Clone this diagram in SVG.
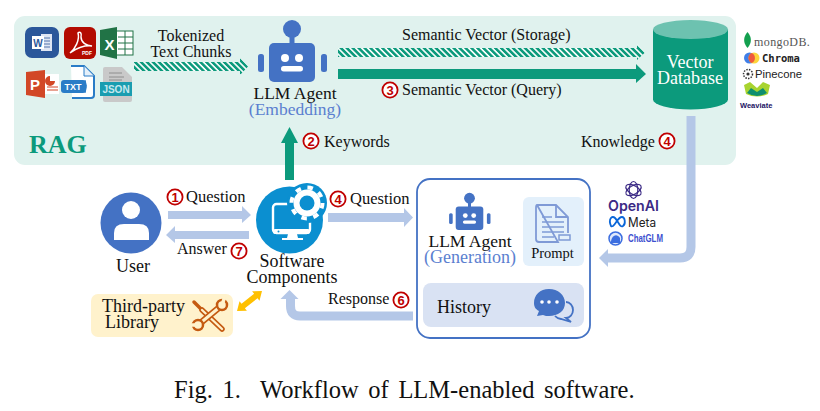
<svg xmlns="http://www.w3.org/2000/svg" xmlns:xlink="http://www.w3.org/1999/xlink" width="820" height="411" viewBox="0 0 820 411">
<style>
text{font-family:"Liberation Serif","Times New Roman",serif;font-size:16px;fill:#111}
.c{text-anchor:middle}
.l{font-size:18px}
.a{font-size:17.500px}
.sub{font-size:17.500px;fill:#5b7fd0}
.q{font-size:16.500px}
.sans{font-family:"Liberation Sans",Arial,sans-serif}
.num{fill:#fff;stroke:#c00000;stroke-width:1.8}
.numt{font-family:"Liberation Sans",Arial,sans-serif;font-weight:bold;font-size:13px;fill:#c00000;text-anchor:middle}
.blue{fill:#b4c7e7}
.bluel{fill:none;stroke:#b4c7e7;stroke-width:9}
.green{fill:#0c9a7c}
.robot{fill:#4472c4}
.w{fill:#fff}
.cap{font-size:24.500px;word-spacing:3.500px}
</style>
<defs>
<pattern id="hatch" width="4.2" height="4.2" patternUnits="userSpaceOnUse" patternTransform="rotate(-45)">
<rect width="4.2" height="4.2" fill="#fff"/><rect width="2.6" height="4.2" fill="#0c9a7c"/>
</pattern>
<g id="robotIcon">
<circle class="robot" cx="0" cy="-23" r="9"/><rect class="robot" x="-2.5" y="-16" width="5" height="12"/>
<rect class="robot" x="-23" y="-9" width="46" height="39" rx="5"/>
<rect class="robot" x="-34" y="2" width="6" height="18" rx="2.5"/><rect class="robot" x="29" y="2" width="6" height="18" rx="2.5"/>
<circle class="w" cx="-7" cy="6" r="4"/><circle class="w" cx="7" cy="6" r="4"/>
<rect class="w" x="-11" y="14" width="22" height="5.500" rx="2.7"/>
</g>
</defs>
<rect width="820" height="411" fill="#fff"/>
<rect id="rag-panel" x="14" y="16" width="722" height="149" rx="11" fill="#e0f2ee"/>
<text x="29" y="153" style="font-size:26px;font-weight:bold;fill:#0c9a7c">RAG</text>

<g id="connectors">
<path d="M134 62H240V58L248 66.500 240 75V71H134Z" fill="url(#hatch)"/>
<path d="M338 48H637V44L645 52.500 637 60V57H338Z" fill="url(#hatch)"/>
<path class="green" d="M338 69H636V64L646 74 636 83V79H338Z"/>
<path class="green" d="M285 180V143H281L289.500 127 298 143H294V180Z"/>
<path class="bluel" d="M691 116V247Q691 258 680 258H606"/>
<polygon class="blue" points="599,258 608,249 608,267"/>
<polygon class="blue" points="168,211 242,211 242,206 251,215 242,223 242,219 168,219"/>
<polygon class="blue" points="249,231 175,231 175,226 166,235 175,243 175,239 249,239"/>
<polygon class="blue" points="328,213 404,213 404,208 413,217.500 404,227 404,222 328,222"/>
<path class="bluel" d="M413 316H300Q290.500 316 290.500 306V296"/>
<polygon class="blue" points="289.500,290 298.500,299 280.500,299"/>
<polygon fill="#ffc000" points="237,311 239.500,301.300 241.500,303.800 254.100,293.800 252.100,291.300 262,291 259.500,300.700 257.500,298.200 244.900,308.200 246.900,310.700"/>
</g>

<g id="documents">
<g id="word"><rect x="25" y="27" width="34" height="31" rx="7" fill="#2b579a"/><rect x="41" y="34" width="11" height="17" fill="#dfe6f3"/><path d="M43 38H50M43 41H50M43 44H50M43 47H50" stroke="#2b579a" stroke-width=".8"/><rect x="32" y="36" width="12" height="13" fill="#fff"/><text x="38" y="46.500" class="c sans" style="font-size:10px;font-weight:bold;fill:#2b579a">W</text></g>
<g id="pdf"><rect x="64" y="27" width="32" height="32" rx="6" fill="#b30b00"/><path d="M70 53C75 49 80 40 78 33 80 31 82 33 81 37 81 42 86 46 92 46 85 45 76 48 70 53Z" fill="none" stroke="#fff" stroke-width="1.500"/><text x="87" y="55" class="c sans" style="font-size:5px;font-weight:bold;fill:#fff">PDF</text></g>
<g id="excel"><rect x="116" y="31" width="17" height="24" fill="#fff" stroke="#217346"/><path d="M118 37H133M118 43H133M118 49H133M125 31V55" stroke="#217346" fill="none"/><polygon points="100,30 117,27 117,59 100,55" fill="#217346"/><text x="109.500" y="50" class="c sans" style="font-size:15px;font-weight:bold;fill:#fff">X</text></g>
<g id="ppt"><rect x="44" y="74" width="15" height="20" fill="#fff"/><path d="M50 76A5 5 0 1 0 55 81H50Z" fill="#d24726"/><path d="M47 87H58M47 90H58" stroke="#d24726"/><polygon points="26,72 45,70 45,98 26,95" fill="#d24726"/><text x="35" y="90" class="c sans" style="font-size:15px;font-weight:bold;fill:#fff">P</text></g>
<g id="txt"><path d="M71 66H84L94 76V95Q94 98 91 98H72" fill="#fff" stroke="#2a7cc7" stroke-width="2"/><path d="M84 66V76H94" fill="#e5f0fa" stroke="#2a7cc7"/><path d="M85 80Q88 86 85 93" stroke="#2a7cc7" fill="none"/><rect x="61" y="80" width="25" height="13" rx="3" fill="#2a7cc7"/><text x="73" y="90" class="c sans" style="font-size:9px;font-weight:bold;fill:#fff">TXT</text></g>
<g id="json"><path d="M103 69Q103 67 105 67H122L132 77V100Q132 102 130 102H105Q103 102 103 100Z" fill="#c9c9c9"/><path d="M109 73H122M109 77H124M109 80H122" stroke="#8e8e8e"/><rect x="100" y="82" width="32" height="14" fill="#1a9db0"/><text x="116" y="93" class="c sans" style="font-size:10px;font-weight:bold;fill:#c5e8ee">JSON</text></g>
</g>

<g id="llm-embedding">
<use xlink:href="#robotIcon" transform="translate(292 52)"/>
<text x="295" y="99" class="c a">LLM Agent</text>
<text x="295" y="115" class="c sub">(Embedding)</text>
</g>
<text x="191" y="41" class="c">Tokenized</text>
<text x="191" y="57" class="c">Text Chunks</text>
<text x="402" y="40">Semantic Vector (Storage)</text>
<circle class="num" cx="390" cy="90" r="7.600"/><text x="390" y="94.500" class="numt">3</text>
<text x="402" y="95">Semantic Vector (Query)</text>
<circle class="num" cx="311" cy="141" r="7.600"/><text x="311" y="145.500" class="numt">2</text>
<text x="324" y="147">Keywords</text>
<text x="581" y="147">Knowledge</text>
<circle class="num" cx="667" cy="141" r="7.600"/><text x="667" y="145.500" class="numt">4</text>

<g id="vector-database">
<path class="green" d="M653 29.500V99.500A37.500 10 0 0 0 728 99.500V29.500Z"/>
<ellipse cx="690.500" cy="29.500" rx="37.500" ry="9.500" fill="#6dc2b0"/>
<text x="690" y="68" class="c" style="font-size:18px;fill:#fff">Vector</text>
<text x="690" y="84" class="c" style="font-size:18px;fill:#fff">Database</text>
</g>

<g id="vector-vendors">
<path d="M747.500 32C752 37 752 43 747.500 48 743 43 743 37 747.500 32Z" fill="#13a04f"/>
<text x="754" y="46" style="font-size:12px;fill:#555;letter-spacing:.4px">mongoDB.</text>
<circle cx="749.500" cy="58" r="5.500" fill="#3f7fe8"/><circle cx="754" cy="58" r="5.500" fill="#fcd53a"/><path d="M751.700 53A5.500 5.500 0 0 1 751.700 63A5.500 5.500 0 0 1 751.700 53Z" fill="#ef5a3c"/>
<text x="762" y="62" style="font-family:'DejaVu Sans Mono',monospace;font-weight:bold;font-size:10.500px;fill:#222">Chroma</text>
<circle cx="748" cy="74" r="4.500" fill="none" stroke="#333" stroke-width="1.500" stroke-dasharray="1.500 1.200"/>
<circle cx="748" cy="74" r="1.600" fill="#333"/>
<text x="755" y="78" class="sans" style="font-size:11.300px;fill:#222">Pinecone</text>
<path d="M744 85L750 82 757 88 763 82 770 85 768 94Q757 99 746 94Z" fill="#a8d430"/><path d="M747 93L751 88 757 92 763 88 767 93Q757 99 747 93Z" fill="#0e8f6e"/>
<text x="740" y="108" class="sans" style="font-size:7.500px;font-weight:bold;fill:#1c1464">Weaviate</text>
</g>

<g id="user">
<circle cx="131" cy="223" r="30.500" fill="#4472c4"/>
<circle class="w" cx="131" cy="210" r="9"/>
<path class="w" d="M114 240V233Q114 224 124 224H139Q149 224 149 233V240Z"/>
<text x="133" y="272" class="c l">User</text>
</g>

<circle class="num" cx="175" cy="197" r="7.600"/><text x="175" y="201.500" class="numt">1</text>
<text x="186" y="202" class="q">Question</text>
<text x="177" y="254">Answer</text>
<circle class="num" cx="239" cy="251" r="7.600"/><text x="239" y="255.500" class="numt">7</text>
<circle class="num" cx="338" cy="199" r="7.600"/><text x="338" y="203.500" class="numt">4</text>
<text x="350" y="204" class="q">Question</text>
<text x="328" y="304">Response</text>
<circle class="num" cx="401" cy="300" r="7.600"/><text x="401" y="304.500" class="numt">6</text>

<g id="software-components">
<circle cx="289.500" cy="220" r="33.500" fill="#0b8fd0"/>
<rect x="273" y="204" width="37" height="29" rx="3.500" fill="none" stroke="#fff" stroke-width="2.400"/>
<rect class="w" x="273" y="229" width="37" height="5" rx="2"/>
<circle cx="278.500" cy="231.500" r="1" fill="#0b8fd0"/>
<path class="w" d="M288 234H297L298 238H303V240H282V238H287Z"/>
<circle cx="307" cy="203" r="20" fill="#0b8fd0"/>
<circle class="w" cx="307" cy="203" r="13.500"/>
<circle cx="307" cy="203" r="15.500" fill="none" stroke="#fff" stroke-width="4" stroke-dasharray="5.500 6.670"/>
<circle cx="307" cy="203" r="7.500" fill="#0b8fd0"/>
<text x="292" y="267" class="c l">Software</text>
<text x="292" y="283" class="c l">Components</text>
</g>

<g id="third-party-library">
<rect x="91" y="294" width="142" height="43" rx="7" fill="#fff2cc"/>
<text x="102" y="312" class="l">Third-party</text>
<text x="105" y="328" class="l">Library</text>
<g fill="none" stroke-linecap="round">
<path d="M194 302L201 309" stroke="#c55a11" stroke-width="3.500"/>
<path d="M202 310L222 329" stroke="#c55a11" stroke-width="5.500"/>
<path d="M202 310L222 329" stroke="#fff2cc" stroke-width="2.300"/>
<path d="M198 325L221 306" stroke="#c55a11" stroke-width="6.500"/>
<path d="M198 325L221 306" stroke="#fff2cc" stroke-width="3"/>
<circle cx="222" cy="305" r="5" fill="#fff2cc" stroke="#c55a11" stroke-width="2.500"/>
<circle cx="198" cy="325" r="5" fill="#fff2cc" stroke="#c55a11" stroke-width="2.500"/>
<path d="M224 299L222 305" stroke="#fff2cc" stroke-width="3.500"/>
<path d="M192 325L198 325" stroke="#fff2cc" stroke-width="3.500"/>
</g>
</g>

<g id="generation-box">
<rect x="417" y="179" width="173" height="159" rx="13" fill="#fff" stroke="#4472c4" stroke-width="1.800"/>
<g id="llm-generation">
<use xlink:href="#robotIcon" transform="translate(469.500 212) scale(.6)"/>
<text x="470" y="247" class="c a">LLM Agent</text>
<text x="470" y="263" class="c l" style="fill:#5b7fd0">(Generation)</text>
</g>
<g id="prompt">
<rect x="523" y="197" width="61" height="69" rx="6" fill="#e3f0fb"/>
<path d="M537 205H556L568 217V233M558 242H539Q536 242 536 239V208Q536 205 537 205Z" fill="none" stroke="#7f9ad6" stroke-width="1.800"/>
<path d="M556 205V217H568" fill="none" stroke="#7f9ad6" stroke-width="1.800"/>
<path d="M542 217H552M542 222H564M542 227H564M542 232H564M542 237H554" stroke="#7f9ad6" stroke-width="1.600"/>
<rect x="559" y="235" width="11" height="5" fill="#e3f0fb" stroke="#7f9ad6" stroke-width="1.500"/>
<text x="552.500" y="258" class="c" style="font-size:14.500px">Prompt</text>
</g>
<g id="history">
<rect x="423" y="283" width="161" height="44" rx="8" fill="#d9e2f3"/>
<text x="437" y="313" class="l">History</text>
<path d="M566 302A7 8 0 0 1 566 318L571 322 561 319A9 8 0 0 1 555 316" fill="none" stroke="#4472c4" stroke-width="1.800"/>
<path d="M549 289C558 289 565 295 565 303 565 311 558 316 549 316 547 316 545 316 543 315L537 316 539 311C535 309 534 306 534 303 534 295 540 289 549 289Z" fill="#4472c4"/>
<circle class="w" cx="542" cy="302" r="1.800"/><circle class="w" cx="549" cy="302" r="1.800"/><circle class="w" cx="557" cy="302" r="1.800"/>
</g>
</g>

<g id="llm-vendors">
<g fill="none" stroke="#3b2a85" stroke-width="1.200"><ellipse cx="633.500" cy="190" rx="8.500" ry="4.300" transform="rotate(30 633.500 190)"/><ellipse cx="633.500" cy="190" rx="8.500" ry="4.300" transform="rotate(90 633.500 190)"/><ellipse cx="633.500" cy="190" rx="8.500" ry="4.300" transform="rotate(150 633.500 190)"/></g>
<text x="633.500" y="211" class="c" style="font-family:Inter,sans-serif;font-size:14px;font-weight:600;fill:#3b2a85" textLength="51" lengthAdjust="spacingAndGlyphs">OpenAI</text>
<path d="M611 226C608 219 612 215 615 218C618 221 620 228 623 226C626 224 625 217 622 217C618 217 616 224 613 226C612 226.500 611.500 226.500 611 226Z" fill="none" stroke="#0a66d8" stroke-width="1.800"/>
<text x="628" y="227" style="font-family:Inter,sans-serif;font-size:12.500px;fill:#222" textLength="28" lengthAdjust="spacingAndGlyphs">Meta</text>
<circle cx="615.500" cy="238.500" r="6.500" fill="#dfe8fb" stroke="#3c6ee0" stroke-width="1.500"/><path d="M611 241C612 235 617 233 620 238V243H611Z" fill="#3c6ee0"/>
<text x="628" y="242" class="sans" style="font-size:10px;font-weight:bold;fill:#3c50d0" textLength="35" lengthAdjust="spacingAndGlyphs">ChatGLM</text>
</g>

<text x="174" y="398" class="cap">Fig. 1.</text>
<text x="260" y="398" class="cap">Workflow of LLM-enabled software.</text>
</svg>
